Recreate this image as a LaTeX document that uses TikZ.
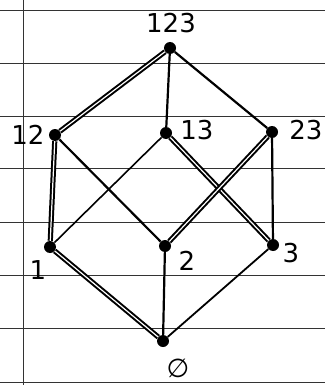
\documentclass[tikz,border=0pt]{standalone}
\usepackage{fontspec}
\setmainfont{DejaVu Sans}
\begin{document}
\begin{tikzpicture}[x=1pt,y=-1pt,
  dot/.style={circle,fill=black,inner sep=0pt,minimum size=12pt},
  lbl/.style={font=\fontsize{26}{30}\selectfont},
  single/.style={line width=2.2pt},
  dbl/.style={double=white,double distance=1.2pt,line width=2pt},
  rule/.style={line width=0.8pt,black!80}]
\useasboundingbox (0,0) rectangle (325,385);
% notebook lines
\foreach \yy in {10,63,116,168,222,275,328,382}
  \draw[rule] (0,\yy) -- (325,\yy);
\draw[rule] (23,0) -- (23,385);
% nodes
\node[dot] (n123) at (170,48) {};
\node[dot] (n12) at (55,135) {};
\node[dot] (n13) at (166,133) {};
\node[dot] (n23) at (272,132) {};
\node[dot] (n1) at (50,247) {};
\node[dot] (n2) at (165,246) {};
\node[dot] (n3) at (273,245) {};
\node[dot] (n0) at (163,341) {};
% labels
\node[lbl] (l123) at (171,23) {123};
\node[lbl] (l12) at (28,135) {12};
\node[lbl] (l13) at (197,130) {13};
\node[lbl] (l23) at (306,130) {23};
\node[lbl] (l1) at (38,270) {1};
\node[lbl] (l2) at (187,261) {2};
\node[lbl] (l3) at (291,253) {3};
\node[lbl] (l0) at (178,368) {∅};
% edges
\draw[dbl] (n123) -- (n12);
\draw[single] (n123) -- (n13);
\draw[single] (n123) -- (n23);
\draw[dbl] (n12) -- (n1);
\draw[single] (n12) -- (n2);
\draw[line width=1.6pt] (n13) -- (n1);
\draw[dbl] (n13) -- (n3);
\draw[dbl] (n23) -- (n2);
\draw[single] (n23) -- (n3);
\draw[dbl] (n1) -- (n0);
\draw[single] (n2) -- (n0);
\draw[line width=1.8pt] (n3) -- (n0);
\end{tikzpicture}
\end{document}
